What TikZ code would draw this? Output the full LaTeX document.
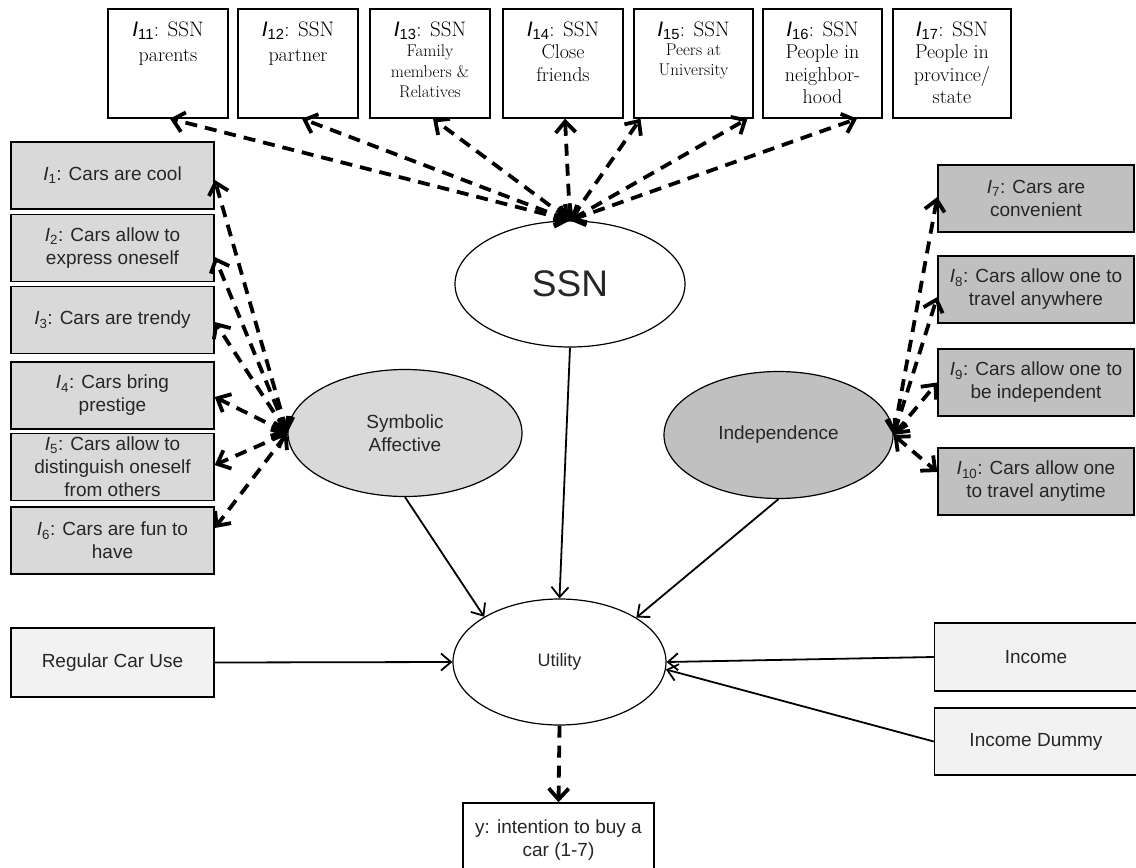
\documentclass[tikz,border=0pt]{standalone}
\usepackage{fontspec}
\setsansfont{Liberation Sans}
\usetikzlibrary{arrows.meta,shapes.geometric}
\definecolor{gA}{HTML}{D9D9D9}
\definecolor{gB}{HTML}{C0C0C0}
\definecolor{gC}{HTML}{F2F2F2}
\definecolor{txt}{HTML}{262626}
\newcommand\Ii[1]{{\sffamily\itshape I}\textsubscript{\sffamily #1}}
\newcommand\tfirst{\rule{0pt}{27pt}\fontsize{21}{22}\selectfont}
\begin{document}
\begin{tikzpicture}[x=1pt,y=-1pt,
  topbox/.style={draw, line width=1.4pt, fill=white, inner sep=0pt, font=\rmfamily},
  leftbox/.style={draw, line width=1.5pt, fill=gA, minimum width=203pt, minimum height=67pt,
    align=center, inner sep=2pt, font=\sffamily\fontsize{19}{23}\selectfont, text=txt},
  rightbox/.style={leftbox, fill=gB, minimum width=196pt},
  extbox/.style={leftbox, fill=gC},
  latent/.style={draw, ellipse, line width=1.2pt, inner sep=0pt, align=center,
    font=\sffamily\fontsize{19}{23}\selectfont, text=txt},
  dsh/.style={line width=3.8pt, dash pattern=on 12pt off 8pt,
    >={Straight Barb[length=11pt,width=20pt]}, <->},
  dshone/.style={line width=3.8pt, dash pattern=on 12pt off 8pt,
    -{Straight Barb[length=11pt,width=20pt]}},
  sol/.style={line width=1.8pt, -{Straight Barb[length=10pt,width=17pt]}}
]
\useasboundingbox (0,0) rectangle (1136,868);
\clip (0,0) rectangle (1136,868);
\fill[white] (0,0) rectangle (1136,868);

% top indicator boxes
\node[topbox] (t11) at (168,63.5) {\parbox[c][109pt][t]{120pt}{\centering\tfirst\Ii{11}: SSN\\ \fontsize{20}{25}\selectfont parents}};
\node[topbox] (t12) at (298,63.5) {\parbox[c][109pt][t]{120pt}{\centering\tfirst\Ii{12}: SSN\\ \fontsize{20}{25}\selectfont partner}};
\node[topbox] (t13) at (430,63.5) {\parbox[c][109pt][t]{120pt}{\centering\tfirst\Ii{13}: SSN\\ \fontsize{17}{20.5}\selectfont Family\\ members \&\\ Relatives}};
\node[topbox] (t14) at (563,63.5) {\parbox[c][109pt][t]{120pt}{\centering\tfirst\Ii{14}: SSN\\ \fontsize{20}{22.5}\selectfont Close\\ friends}};
\node[topbox] (t15) at (693.5,63.5) {\parbox[c][109pt][t]{119pt}{\centering\tfirst\Ii{15}: SSN\\ \fontsize{17}{19.5}\selectfont Peers at\\ University}};
\node[topbox] (t16) at (822.5,63.5) {\parbox[c][109pt][t]{119pt}{\centering\tfirst\Ii{16}: SSN\\ \fontsize{20}{22.5}\selectfont People in\\ neighbor-\\ hood}};
\node[topbox] (t17) at (952,63.5) {\parbox[c][109pt][t]{118pt}{\centering\tfirst\Ii{17}: SSN\\ \fontsize{20}{22.5}\selectfont People in\\ province/\\ state}};

% left indicator boxes
\node[leftbox] (l1) at (112.5,175.5) {\Ii{1}: Cars are cool};
\node[leftbox] (l2) at (112.5,248) {\Ii{2}: Cars allow to\\ express oneself};
\node[leftbox] (l3) at (112.5,320) {\Ii{3}: Cars are trendy};
\node[leftbox] (l4) at (112.5,395.5) {\Ii{4}: Cars bring\\ prestige};
\node[leftbox] (l5) at (112.5,467) {\Ii{5}: Cars allow to\\ distinguish oneself\\ from others};
\node[leftbox] (l6) at (112.5,540.5) {\Ii{6}: Cars are fun to\\ have};

% right indicator boxes
\node[rightbox] (r7) at (1036,198.5) {\Ii{7}: Cars are\\ convenient};
\node[rightbox] (r8) at (1036,289.5) {\Ii{8}: Cars allow one to\\ travel anywhere};
\node[rightbox] (r9) at (1036,382.5) {\Ii{9}: Cars allow one to\\ be independent};
\node[rightbox] (r10) at (1036,481.5) {\Ii{10}: Cars allow one\\ to travel anytime};

% exogenous boxes
\node[extbox, minimum height=69pt] (rcu) at (112.5,662.5) {Regular Car Use};
\node[extbox, minimum height=68pt] (inc) at (1036,657) {Income};
\node[extbox] (incd) at (1036,741.5) {Income Dummy};

% outcome box
\node[draw, line width=1.5pt, fill=white, minimum width=191pt, minimum height=74pt,
  align=center, inner sep=2pt, font=\sffamily\fontsize{19}{23}\selectfont, text=txt] (yb) at (558.5,840) {y: intention to buy a\\ car (1-7)};

% latent variables
\node[latent, fill=white, minimum width=230pt, minimum height=126pt,
  font=\sffamily\fontsize{37}{40}\selectfont] (ssn) at (570,284) {SSN};
\node[latent, fill=gA, minimum width=234pt, minimum height=127pt] (sa) at (405,433) {Symbolic\\ Affective};
\node[latent, fill=gB, minimum width=229pt, minimum height=127pt] (ind) at (778.5,435) {Independence};
\node[latent, fill=white, minimum width=213pt, minimum height=126pt,
  font=\sffamily\fontsize{18}{22}\selectfont] (u) at (559.5,662) {Utility};

% SSN indicators
\draw[dsh] (ssn.north) -- ([xshift=2pt]t11.south);
\draw[dsh] (ssn.north) -- ([xshift=4pt]t12.south);
\draw[dsh] (ssn.north) -- ([xshift=3pt]t13.south);
\draw[dsh] (ssn.north) -- ([xshift=2pt]t14.south);
\draw[dsh] (ssn.north) -- ([xshift=-53pt]t15.south);
\draw[dsh] (ssn.north) -- ([xshift=-75pt]t16.south);
\draw[dsh] (ssn.north) -- ([xshift=-95pt]t17.south);

% Symbolic Affective indicators
\draw[dsh] (sa.west) -- ([yshift=-4.5pt]l1.east);
\draw[dsh] (sa.west) -- ([yshift=-9pt]l2.east);
\draw[dsh] (sa.west) -- ([yshift=-2pt]l3.east);
\draw[dsh] (sa.west) -- ([yshift=-1.5pt]l4.east);
\draw[dsh] (sa.west) -- ([yshift=2pt]l5.east);
\draw[dsh] (sa.west) -- ([yshift=12.5pt]l6.east);

% Independence indicators
\draw[dsh] (ind.east) -- ([yshift=1.5pt]r7.west);
\draw[dsh] (ind.east) -- ([yshift=-7.5pt]r8.west);
\draw[dsh] (ind.east) -- (r9.west);
\draw[dsh] (ind.east) -- ([yshift=9.5pt]r10.west);

% structural paths
\draw[sol] (ssn.south) -- (u.north);
\draw[sol] (sa.south) -- (u.149);
\draw[sol] (ind.south) -- (u.30);
\draw[sol] (rcu.east) -- (u.west);
\draw[sol] (inc.west) -- (u.east);
\draw[sol] (incd.west) -- (u.-4);
\draw[dshone] (u.south) -- (yb.north);
\end{tikzpicture}
\end{document}
